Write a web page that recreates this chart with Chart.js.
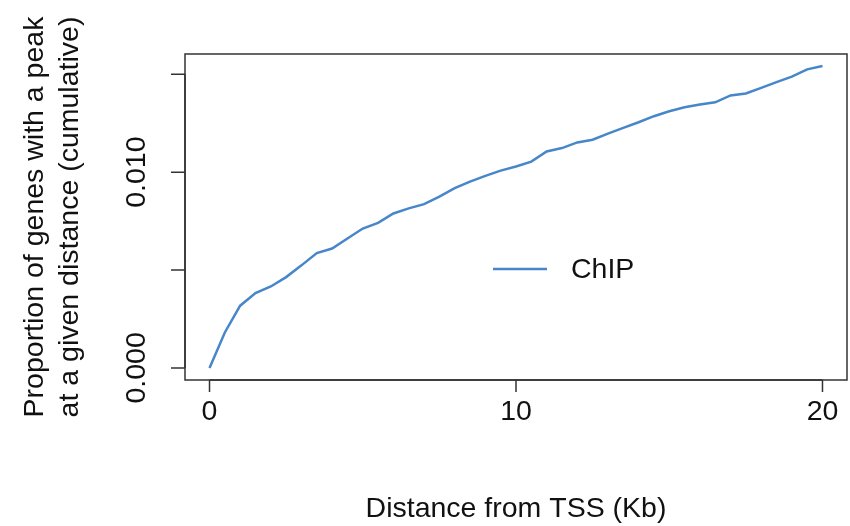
<!DOCTYPE html>
<html>
<head>
<meta charset="utf-8">
<script src="https://cdn.jsdelivr.net/npm/chart.js@4/dist/chart.umd.min.js"></script>
<style>
html,body{margin:0;padding:0;background:#fff;}
#wrap{width:850px;height:526px;}
</style>
</head>
<body>
<div id="wrap"><canvas id="c" width="850" height="526"></canvas></div>
<script>
// Distance from TSS (Kb)
const distanceKb = [0,0.5,1,1.5,2,2.5,3,3.5,4,4.5,5,5.5,6,6.5,7,7.5,8,8.5,9,9.5,10,
  10.5,11,11.5,12,12.5,13,13.5,14,14.5,15,15.5,16,16.5,17,17.5,18,18.5,19,19.5,20];
// Cumulative proportion of genes with a peak (ChIP)
const chipValues = [0,0.00181,0.00318,0.00382,0.00416,0.00464,0.00524,0.00587,0.00610,0.00661,0.00712,
  0.00741,0.00789,0.00815,0.00837,0.00875,0.00918,0.00952,0.00981,0.01008,0.01029,
  0.01054,0.01106,0.01123,0.01152,0.01166,0.01197,0.01226,0.01255,0.01286,0.01311,
  0.01332,0.01346,0.01357,0.01392,0.01402,0.01431,0.01460,0.01488,0.01525,0.01542];
const xTicks = [0,10,20];
const xTickLabels = ["0","10","20"];
const yTicks = [0,0.005,0.010,0.015];
const yTickLabels = ["0.000","","0.010",""];
const seriesName = "ChIP";
const xTitle = "Distance from TSS (Kb)";
const yTitleLines = ["Proportion of genes with a peak","at a given distance (cumulative)"];

const FONT = '28.5px "Liberation Sans", Arial, sans-serif';
const AXIS_COLOR = '#333';
const LINE_COLOR = '#4787c9';

// R-style 4% axis extension
const xMinD = Math.min(...distanceKb), xMaxD = Math.max(...distanceKb);
const yMinD = Math.min(...chipValues), yMaxD = Math.max(...chipValues);
const xExt = (xMaxD - xMinD) * 0.04, yExt = (yMaxD - yMinD) * 0.04;

const rAxes = {
  id: 'rAxes',
  afterDraw(chart) {
    const ctx = chart.ctx, a = chart.chartArea;
    const xs = chart.scales.x, ys = chart.scales.y;
    ctx.save();
    ctx.strokeStyle = AXIS_COLOR;
    ctx.lineWidth = 1.5;
    ctx.strokeRect(a.left, a.top, a.right - a.left, a.bottom - a.top);
    ctx.fillStyle = '#111';
    ctx.font = FONT;
    // x axis
    ctx.beginPath();
    const xp0 = xs.getPixelForValue(xTicks[0]), xp1 = xs.getPixelForValue(xTicks[xTicks.length-1]);
    ctx.moveTo(xp0, a.bottom); ctx.lineTo(xp1, a.bottom);
    xTicks.forEach(v => { const p = xs.getPixelForValue(v); ctx.moveTo(p, a.bottom); ctx.lineTo(p, a.bottom + 12); });
    ctx.stroke();
    ctx.textAlign = 'center'; ctx.textBaseline = 'middle';
    xTicks.forEach((v,i) => ctx.fillText(xTickLabels[i], xs.getPixelForValue(v), a.bottom + 32));
    ctx.fillText(xTitle, (a.left + a.right)/2, a.bottom + 129);
    // y axis
    ctx.beginPath();
    const yp0 = ys.getPixelForValue(yTicks[0]), yp1 = ys.getPixelForValue(yTicks[yTicks.length-1]);
    ctx.moveTo(a.left, yp0); ctx.lineTo(a.left, yp1);
    yTicks.forEach(v => { const p = ys.getPixelForValue(v); ctx.moveTo(a.left, p); ctx.lineTo(a.left - 14, p); });
    ctx.stroke();
    yTicks.forEach((v,i) => {
      if (!yTickLabels[i]) return;
      ctx.save();
      ctx.translate(a.left - 48, ys.getPixelForValue(v));
      ctx.rotate(-Math.PI/2);
      ctx.fillText(yTickLabels[i], 0, 0);
      ctx.restore();
    });
    const cy = (a.top + a.bottom)/2;
    [35, 70].forEach((x,i) => {
      ctx.save();
      ctx.translate(x, cy);
      ctx.rotate(-Math.PI/2);
      ctx.fillText(yTitleLines[i], 0, 0);
      ctx.restore();
    });
    // legend
    ctx.beginPath();
    ctx.strokeStyle = LINE_COLOR; ctx.lineWidth = 2.5;
    ctx.moveTo(493, 269); ctx.lineTo(547, 269);
    ctx.stroke();
    ctx.textAlign = 'left';
    ctx.fillText(seriesName, 571, 270);
    ctx.restore();
  }
};

new Chart(document.getElementById('c'), {
  type: 'line',
  data: {
    datasets: [{
      label: seriesName,
      data: distanceKb.map((x,i) => ({x: x, y: chipValues[i]})),
      borderColor: LINE_COLOR,
      borderWidth: 2.5,
      pointRadius: 0,
      tension: 0,
      fill: false
    }]
  },
  options: {
    responsive: false,
    devicePixelRatio: 1,
    animation: false,
    layout: { padding: { left: 185, top: 54, right: 3, bottom: 146 } },
    plugins: { legend: { display: false }, tooltip: { enabled: false } },
    scales: {
      x: { type: 'linear', display: false, min: xMinD - xExt, max: xMaxD + xExt },
      y: { type: 'linear', display: false, min: yMinD - yExt, max: yMaxD + yExt }
    }
  },
  plugins: [rAxes]
});
</script>
</body>
</html>
